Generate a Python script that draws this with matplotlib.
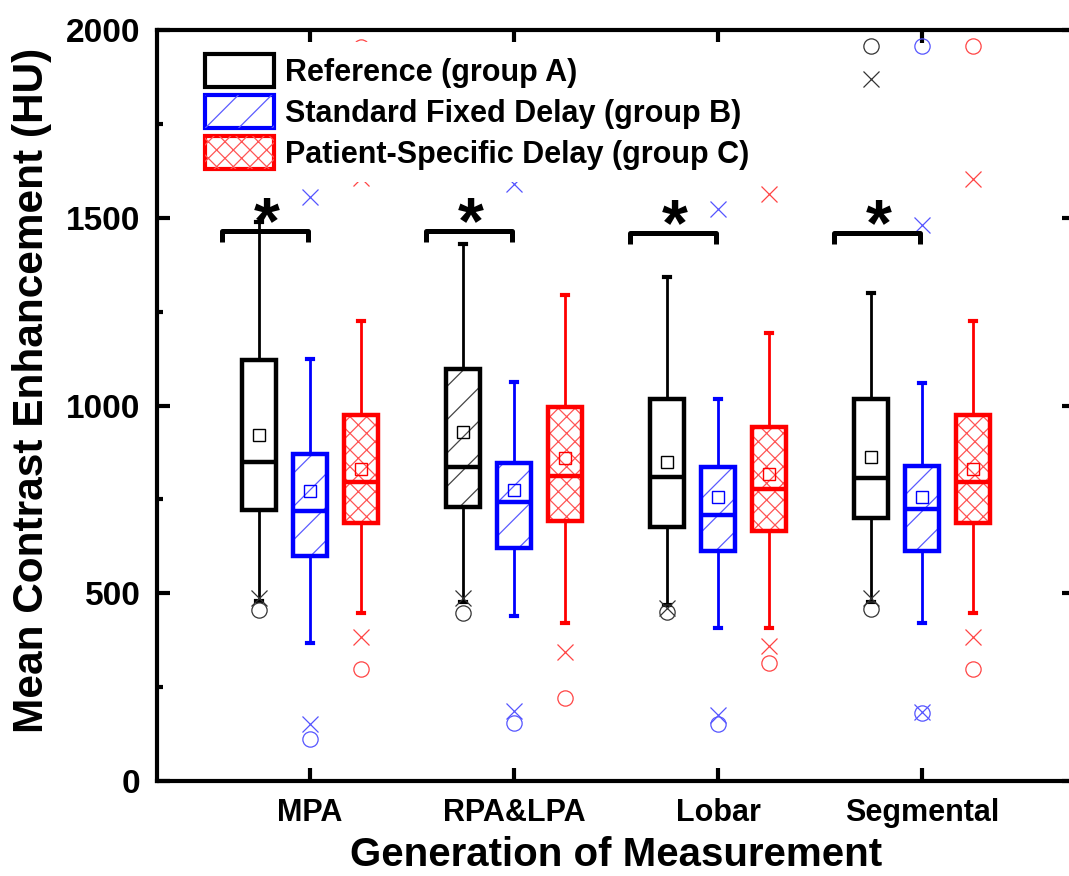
import numpy as np
import matplotlib.pyplot as plt
from matplotlib.patches import Rectangle

plt.rcParams["font.family"] = ["Liberation Sans", "DejaVu Sans"]
plt.rcParams["font.weight"] = "bold"
plt.rcParams["hatch.linewidth"] = 0.9

categories = ["MPA", "RPA&LPA", "Lobar", "Segmental"]
group_labels = ["Reference (group A)", "Standard Fixed Delay (group B)",
                "Patient-Specific Delay (group C)"]

# group A - reference
q1_a = [722, 730, 677, 700]
med_a = [849, 836, 810, 807]
q3_a = [1121, 1097, 1017, 1017]
mean_a = [921, 929, 850, 863]
whislo_a = [480, 477, 469, 477]
whishi_a = [1489, 1430, 1342, 1300]
x_lo_a = [487, 487, 461, 487]
o_lo_a = [455, 447, 450, 458]
x_hi_a = [np.nan, np.nan, np.nan, 1869]
o_hi_a = [np.nan, np.nan, np.nan, 1957]

# group B - standard fixed delay
q1_b = [599, 620, 613, 613]
med_b = [719, 743, 708, 724]
q3_b = [871, 847, 836, 839]
mean_b = [772, 775, 756, 756]
whislo_b = [368, 439, 407, 421]
whishi_b = [1124, 1063, 1017, 1060]
x_lo_b = [152, 187, 176, 184]
o_lo_b = [112, 155, 152, 180]
x_hi_b = [1555, 1590, 1523, 1481]
o_hi_b = [np.nan, np.nan, np.nan, 1957]

# group C - patient-specific delay
q1_c = [687, 692, 666, 687]
med_c = [796, 812, 778, 796]
q3_c = [975, 996, 943, 975]
mean_c = [831, 860, 818, 831]
whislo_c = [447, 421, 407, 447]
whishi_c = [1225, 1294, 1193, 1225]
x_lo_c = [383, 344, 360, 383]
o_lo_c = [298, 221, 314, 298]
x_hi_c = [1605, np.nan, 1563, 1603]
o_hi_c = [1955, np.nan, np.nan, 1957]

# significance brackets (A vs B)
bracket_y = [1465, 1465, 1460, 1460]

groups = [
    dict(q1=q1_a, med=med_a, q3=q3_a, mean=mean_a, lo=whislo_a, hi=whishi_a,
         xlo=x_lo_a, olo=o_lo_a, xhi=x_hi_a, ohi=o_hi_a,
         color="black", light="#333333", hatch=[None, "/", None, None],
         hatch_color="#444444", off=-0.25),
    dict(q1=q1_b, med=med_b, q3=q3_b, mean=mean_b, lo=whislo_b, hi=whishi_b,
         xlo=x_lo_b, olo=o_lo_b, xhi=x_hi_b, ohi=o_hi_b,
         color="#0000ff", light="#5555ff", hatch=["/"] * 4,
         hatch_color="#5a5aff", off=0.0),
    dict(q1=q1_c, med=med_c, q3=q3_c, mean=mean_c, lo=whislo_c, hi=whishi_c,
         xlo=x_lo_c, olo=o_lo_c, xhi=x_hi_c, ohi=o_hi_c,
         color="#ff0000", light="#ff4444", hatch=["xx"] * 4,
         hatch_color="#ff5555", off=0.25),
]

fig = plt.figure(figsize=(10.69, 8.76), dpi=100)
ax = fig.add_axes([0.1469, 0.1084, 0.8587, 0.8574])

x = np.arange(1, len(categories) + 1)
width = 0.167

for g in groups:
    pos = x + g["off"]
    for i, p in enumerate(pos):
        if g["hatch"][i]:
            ax.add_patch(Rectangle((p - width / 2, g["q1"][i]), width,
                                   g["q3"][i] - g["q1"][i], facecolor="none",
                                   edgecolor=g["hatch_color"], linewidth=0,
                                   hatch=g["hatch"][i], zorder=1.5))
    stats = [dict(med=g["med"][i], q1=g["q1"][i], q3=g["q3"][i],
                  whislo=g["lo"][i], whishi=g["hi"][i], mean=g["mean"][i])
             for i in range(len(categories))]
    c = g["color"]
    ax.bxp(stats, positions=pos, widths=width, patch_artist=True,
           showmeans=True, showfliers=False, manage_ticks=False,
           capwidths=0.03,
           boxprops=dict(facecolor="none", edgecolor=c, linewidth=3.2),
           medianprops=dict(color=c, linewidth=3.2),
           whiskerprops=dict(color=c, linewidth=2),
           capprops=dict(color=c, linewidth=3),
           meanprops=dict(marker="s", markerfacecolor="none",
                          markeredgecolor=c, markersize=9,
                          markeredgewidth=1.0))
    ax.plot(pos, g["xlo"], "x", color=g["light"], ms=11, mew=0.9, zorder=3)
    ax.plot(pos, g["xhi"], "x", color=g["light"], ms=11, mew=0.9, zorder=3)
    ax.plot(pos, g["olo"], "o", mfc="none", mec=g["light"], ms=11, mew=0.9, zorder=3)
    ax.plot(pos, g["ohi"], "o", mfc="none", mec=g["light"], ms=11, mew=0.9, zorder=3)

for i, xc in enumerate(x):
    left, right = xc - 0.43, xc - 0.01
    yb = bracket_y[i]
    ax.plot([left, left, right, right], [yb - 30, yb, yb, yb - 30],
            color="black", lw=3.6, solid_joinstyle="round",
            solid_capstyle="butt", zorder=4)
    ax.text(xc - 0.21, yb - 32, "*", ha="center", va="baseline",
            fontsize=48, fontweight="bold", zorder=4)

ax.set_xlim(0.25, 4.75)
ax.set_ylim(0, 2000)
ax.set_xticks(x, categories)
ax.set_yticks([0, 500, 1000, 1500, 2000])
ax.set_yticks([250, 750, 1250, 1750], minor=True)

for s in ax.spines.values():
    s.set_linewidth(3)
ax.tick_params(which="both", direction="in", top=True, right=True,
               labeltop=False, labelright=False, width=3)
ax.tick_params(which="major", length=9.5)
ax.tick_params(which="minor", length=4.5)
ax.tick_params(axis="y", labelsize=24, pad=12)
ax.tick_params(axis="x", labelsize=22, pad=12)

ax.set_xlabel("Generation of Measurement", fontsize=29, fontweight="bold",
              labelpad=6)
ax.set_ylabel("Mean Contrast Enhancement (HU)", fontsize=30.5,
              fontweight="bold")
ax.yaxis.set_label_coords(-0.114, 0.52)

handles = [Rectangle((0, 0), 1, 1, facecolor="white", edgecolor="black",
                     linewidth=3)]
for g in groups[1:]:
    edge = Rectangle((0, 0), 1, 1, facecolor="white", edgecolor=g["color"],
                     linewidth=3)
    hp = Rectangle((0, 0), 1, 1, facecolor="none",
                   edgecolor=g["hatch_color"], linewidth=0,
                   hatch=g["hatch"][0])
    handles.append((edge, hp))

leg = ax.legend(handles, group_labels, loc="upper left",
                bbox_to_anchor=(0.039, 0.984), borderaxespad=0,
                borderpad=0.4, fontsize=22, frameon=True, framealpha=1,
                facecolor="white", edgecolor="none", fancybox=False,
                handlelength=2.25, handleheight=1.25, handletextpad=0.35,
                labelspacing=0.25)
for t in leg.get_texts():
    t.set_fontweight("bold")

fig.savefig("out.png", dpi=100)
